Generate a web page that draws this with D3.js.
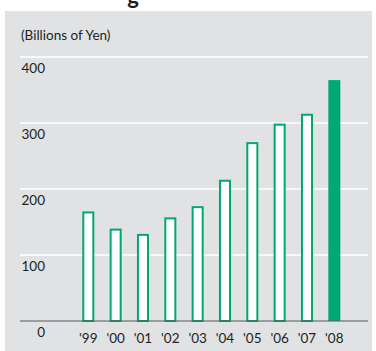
<!DOCTYPE html>
<html>
<head>
<meta charset="utf-8">
<script src="https://cdn.jsdelivr.net/npm/d3@7"></script>
<style>
  html, body { margin: 0; padding: 0; background: #ffffff; }
  svg { display: block; }
  text { font-family: Lato, "Open Sans", sans-serif; fill: #231f20; }
</style>
</head>
<body>
<svg id="chart" width="376" height="351"></svg>
<script>
// Fiscal years and values (billions of yen)
const years = ["'99", "'00", "'01", "'02", "'03", "'04", "'05", "'06", "'07", "'08"];
const values = [166, 140, 132, 157, 174, 214, 271, 299, 314, 365];
const yTicks = [0, 100, 200, 300, 400];
const unitLabel = "(Billions of Yen)";

const green = "#00a971";
const panelBg = "#e1e2e4";
const labelSize = "13.5px";

const svg = d3.select("#chart");

// Heading above the panel (mostly outside the visible area)
svg.append("text")
  .attr("x", 133)
  .attr("y", 4)
  .attr("text-anchor", "middle")
  .style("font-size", "22px")
  .style("font-weight", "bold")
  .text("g");

// Grey panel
svg.append("rect")
  .attr("x", 5).attr("y", 11)
  .attr("width", 367).attr("height", 340)
  .attr("fill", panelBg);

const y = d3.scaleLinear().domain([0, 400]).range([321, 57]);
const x = d3.scaleBand()
  .domain(years)
  .range([74.65, 348])
  .paddingInner(0.56)
  .paddingOuter(0.28);

const gridX0 = 20, gridX1 = 368;

// Unit label
svg.append("text")
  .attr("x", 21).attr("y", 40)
  .style("font-size", labelSize)
  .text(unitLabel);

// Gridlines
svg.append("g")
  .selectAll("line")
  .data(yTicks.filter(d => d > 0))
  .join("line")
  .attr("x1", gridX0).attr("x2", gridX1)
  .attr("y1", d => y(d)).attr("y2", d => y(d))
  .attr("stroke", "#ffffff")
  .attr("stroke-width", 1.6);

// Y tick labels, set just below each gridline
svg.append("g")
  .selectAll("text")
  .data(yTicks)
  .join("text")
  .attr("x", 45)
  .attr("y", d => y(d) + 15.5)
  .attr("text-anchor", "end")
  .style("font-size", labelSize)
  .text(d => d);

// Bars: outlined for earlier years, solid for the latest
const last = years[years.length - 1];
svg.append("g")
  .selectAll("rect")
  .data(years.map((yr, i) => ({ yr, v: values[i] })))
  .join("rect")
  .attr("x", d => d.yr === last ? x(d.yr) : x(d.yr) + 1)
  .attr("width", d => d.yr === last ? x.bandwidth() : x.bandwidth() - 2)
  .attr("y", d => d.yr === last ? y(d.v) : y(d.v) + 1)
  .attr("height", d => d.yr === last ? y(0) - y(d.v) : y(0) - y(d.v) - 1)
  .attr("fill", d => d.yr === last ? green : "#ffffff")
  .attr("stroke", d => d.yr === last ? "none" : green)
  .attr("stroke-width", 2);

// Baseline
svg.append("line")
  .attr("x1", gridX0).attr("x2", gridX1)
  .attr("y1", y(0)).attr("y2", y(0))
  .attr("stroke", "#58595b")
  .attr("stroke-width", 1);

// Year labels
svg.append("g")
  .selectAll("text")
  .data(years)
  .join("text")
  .attr("x", d => x(d) + x.bandwidth() / 2)
  .attr("y", 343)
  .attr("text-anchor", "middle")
  .style("font-size", labelSize)
  .text(d => d);
</script>
</body>
</html>
